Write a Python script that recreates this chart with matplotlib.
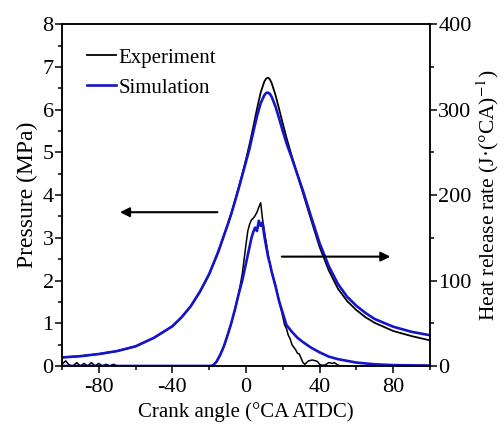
import matplotlib
matplotlib.use("Agg")
import matplotlib.pyplot as plt
from matplotlib.ticker import MultipleLocator

#Fuente tipo Times
plt.rcParams["font.family"] = "Liberation Serif"
plt.rcParams["mathtext.fontset"] = "stix"
plt.rcParams["axes.unicode_minus"] = False

#Presion en el cilindro (MPa) vs angulo de ciguenal
ca_p = [-100, -90, -80, -70, -60, -50, -40, -35, -30, -25, -20, -15, -10, -8, -6,
        -4, -2, 0, 2, 4, 6, 8, 10, 11, 12, 13, 14, 16, 18, 20, 22, 25, 28, 31,
        35, 40, 45, 50, 55, 60, 65, 70, 80, 90, 100]
p_sim = [0.20, 0.23, 0.28, 0.35, 0.46, 0.66, 0.93, 1.14, 1.40, 1.74, 2.15, 2.68,
         3.30, 3.56, 3.85, 4.15, 4.46, 4.78, 5.10, 5.48, 5.85, 6.15, 6.34, 6.39,
         6.40, 6.37, 6.30, 6.08, 5.80, 5.50, 5.22, 4.86, 4.48, 4.10, 3.55, 2.88,
         2.34, 1.92, 1.62, 1.41, 1.24, 1.10, 0.92, 0.80, 0.72]
p_exp = [0.20, 0.23, 0.28, 0.35, 0.46, 0.66, 0.93, 1.14, 1.40, 1.74, 2.15, 2.68,
         3.30, 3.56, 3.86, 4.17, 4.49, 4.83, 5.20, 5.60, 6.02, 6.40, 6.66, 6.73,
         6.75, 6.71, 6.62, 6.35, 6.02, 5.68, 5.35, 4.90, 4.47, 4.05, 3.48, 2.79,
         2.24, 1.81, 1.52, 1.31, 1.14, 1.01, 0.82, 0.70, 0.60]

#Tasa de liberacion de calor (J/°CA) - simulacion
ca_h_sim = [-100, -60, -30, -20, -18, -16, -14, -12, -10, -8, -6, -4, -2, 0, 1, 2,
            3, 4, 5, 6, 7, 8, 9, 10, 11, 12, 13, 14, 16, 18, 20, 22, 25, 28, 31,
            35, 40, 45, 50, 55, 60, 70, 80, 100]
hrr_sim = [0, 0, 0, 0, 0.5, 5, 13, 23, 36, 50, 66, 84, 100, 120, 130, 140, 150,
           157, 162, 158, 170, 164, 168, 152, 140, 128, 120, 110, 94, 76, 62, 48,
           40, 33, 28, 22, 16, 11, 8, 6, 4, 2, 1, 0.5]

#Tasa de liberacion de calor (J/°CA) - experimento
ca_h_exp = [-100, -98, -96, -94, -92, -90, -88, -86, -84, -82, -80, -78, -76, -74,
            -72, -70, -60, -30, -20, -18, -16, -14, -12, -10, -8, -6, -4, -2, -1,
            0, 1, 2, 3, 4, 5, 6, 7, 8, 9, 10, 11, 12, 13, 14, 16, 18, 20, 21, 22,
            23, 24, 25, 26, 27, 28, 29, 30, 31, 32, 33, 34, 36, 38, 39, 40, 41,
            43, 45, 47, 48, 50, 52, 60, 100]
hrr_exp = [2, 6, 1, 0, 4, 0, 3, 0, 4, 0, 3, 0, 2, 0, 2, 0, 0, 0, 0, 0.5, 5, 13,
           23, 36, 50, 66, 84, 108, 125, 142, 158, 166, 171, 173, 176, 180, 186,
           191, 172, 158, 145, 132, 120, 110, 95, 76, 58, 48, 44, 36, 32, 25, 22,
           19, 15, 14, 9, 4, 2, 4, 6, 7, 6, 5, 2, 1, 1, 4, 3, 4, 1, 0, 0, 0]

fig = plt.figure(figsize=(5.04, 4.37), dpi=100)
ax = fig.add_axes([0.123, 0.1625, 0.730, 0.782])
ax2 = ax.twinx()

ax.plot(ca_p, p_exp, color="black", lw=1.3, label="Experiment")
ax.plot(ca_p, p_sim, color="#1414c8", lw=1.9, label="Simulation")
ax2.plot(ca_h_exp, hrr_exp, color="black", lw=1.1)
ax2.plot(ca_h_sim, hrr_sim, color="#1414c8", lw=1.9)

ax.set_xlim(-100, 100)
ax.set_ylim(0, 8)
ax2.set_ylim(0, 400)

ax.xaxis.set_major_locator(MultipleLocator(40))
ax.xaxis.set_minor_locator(MultipleLocator(20))
ax.yaxis.set_major_locator(MultipleLocator(1))
ax.yaxis.set_minor_locator(MultipleLocator(0.5))
ax2.yaxis.set_major_locator(MultipleLocator(100))
ax2.yaxis.set_minor_locator(MultipleLocator(50))

ax.tick_params(which="both", direction="out", labelsize=16, width=1.1)
ax.tick_params(which="major", length=5)
ax.tick_params(which="minor", length=3)
ax.tick_params(axis="y", pad=1)
ax2.tick_params(which="both", direction="out", labelsize=16, width=1.1, pad=1)
ax2.tick_params(which="major", length=5)
ax2.tick_params(which="minor", length=3)

for a in (ax, ax2):
    for s in a.spines.values():
        s.set_linewidth(1.1)

ax.set_xlabel("Crank angle (°CA ATDC)", fontsize=15, labelpad=4)
ax.set_ylabel("Pressure (MPa)", fontsize=17, labelpad=3)
ax2.set_ylabel("Heat release rate (J·(°CA)$^{-1}$)", fontsize=15.5, labelpad=2)

#Flechas que indican el eje de cada curva
ax.annotate("", xy=(-70, 3.6), xytext=(-14, 3.6),
            arrowprops=dict(arrowstyle="-|>", color="black", lw=1.5, mutation_scale=14))
ax.annotate("", xy=(80, 2.56), xytext=(18, 2.56),
            arrowprops=dict(arrowstyle="-|>", color="black", lw=1.5, mutation_scale=14))

ax.legend(loc="upper left", frameon=False, fontsize=15, handlelength=1.4,
          handletextpad=0.1, labelspacing=0.5, borderaxespad=0.0,
          bbox_to_anchor=(0.045, 0.955))

plt.savefig("out.png", dpi=100)
